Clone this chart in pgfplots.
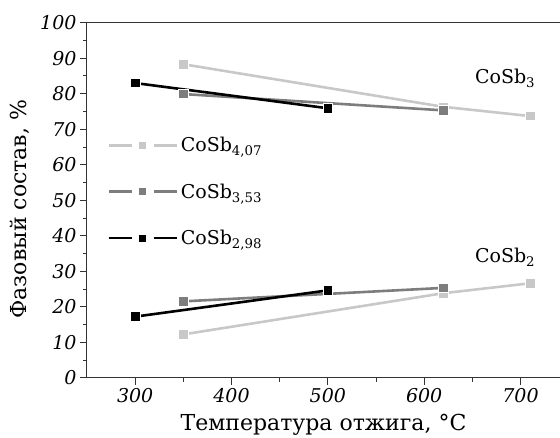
\documentclass[border=0pt]{standalone}
\usepackage{pgfplots}
\pgfplotsset{compat=1.18}
\usepackage{fontspec}
\setmainfont{DejaVu Serif}
\definecolor{lg}{RGB}{200,200,200}
\definecolor{mg}{RGB}{125,125,125}
\begin{document}
\begin{tikzpicture}
\begin{axis}[
 scale only axis, width=473pt, height=355pt,
 xmin=250, xmax=741, ymin=0, ymax=100,
 axis x line*=bottom, axis y line*=left,
 axis line style={line width=1pt, black!80},
 tick style={line width=0.9pt, black!80},
 tick align=outside,
 xtick={300,400,500,600,700}, ytick={0,10,...,100},
 minor x tick num=1, minor y tick num=1,
 major tick length=7pt, minor tick length=4pt,
 ticklabel style={font=\fontsize{19}{19}\selectfont\itshape},
 /pgf/number format/assume math mode=true,
 xlabel={Температура отжига, °C}, ylabel={Фазовый состав, \%},
 label style={font=\fontsize{22}{22}\selectfont},
 xlabel style={at={(axis description cs:0.5,-0.1324)}, anchor=center},
 ylabel style={at={(axis description cs:-0.1416,0.475)}, anchor=center},
 clip=false,
 legend style={draw=none, fill=none, inner sep=0pt, at={(axis cs:270.8,52.4)}, anchor=west,
   font=\fontsize{19}{19}\selectfont, row sep=26.5pt, nodes={inner xsep=3pt}},
 legend cell align=left,
 legend image code/.code={
   \draw[#1] (0pt,0pt) -- (23pt,0pt);
   \draw[#1] (45pt,0pt) -- (68pt,0pt);
   \draw[#1, mark size=4pt] plot coordinates {(34pt,0pt)};
 },
]
\addplot[lg, line width=2.6pt, mark=square*, mark size=4.8pt, mark options={fill=lg, draw=white, line width=0.8pt}]
 coordinates {(350,88.3) (620,76.3) (710,73.7)};
\addlegendentry{CoSb\textsubscript{4,07}}
\addplot[lg, line width=2.6pt, mark=square*, mark size=4.8pt, mark options={fill=lg, draw=white, line width=0.8pt}, forget plot]
 coordinates {(350,12.2) (620,23.8) (710,26.6)};
\addplot[mg, line width=2.6pt, mark=square*, mark size=4.8pt, mark options={fill=mg, draw=white, line width=0.8pt}]
 coordinates {(350,79.9) (620,75.3)};
\addlegendentry{CoSb\textsubscript{3,53}}
\addplot[mg, line width=2.6pt, mark=square*, mark size=4.8pt, mark options={fill=mg, draw=white, line width=0.8pt}, forget plot]
 coordinates {(350,21.5) (620,25.3)};
\addplot[black, line width=2.6pt, mark=square*, mark size=4.8pt, mark options={fill=black, draw=white, line width=0.8pt}]
 coordinates {(300,83.0) (500,75.9)};
\addlegendentry{CoSb\textsubscript{2,98}}
\addplot[black, line width=2.6pt, mark=square*, mark size=4.8pt, mark options={fill=black, draw=white, line width=0.8pt}, forget plot]
 coordinates {(300,17.2) (500,24.6)};
\draw[line width=1pt, black!80] (rel axis cs:0,1) -- (rel axis cs:1,1);
\node[font=\fontsize{19}{19}\selectfont] at (axis cs:684,84.4) {CoSb\textsubscript{3}};
\node[font=\fontsize{19}{19}\selectfont] at (axis cs:684,34) {CoSb\textsubscript{2}};
\end{axis}
\pgfresetboundingbox
\path (current axis.south west) ++(-87pt,-59.3pt) coordinate (bl);
\path[use as bounding box] (bl) rectangle ([yshift=22.7pt]current axis.north east);
\end{tikzpicture}
\end{document}
